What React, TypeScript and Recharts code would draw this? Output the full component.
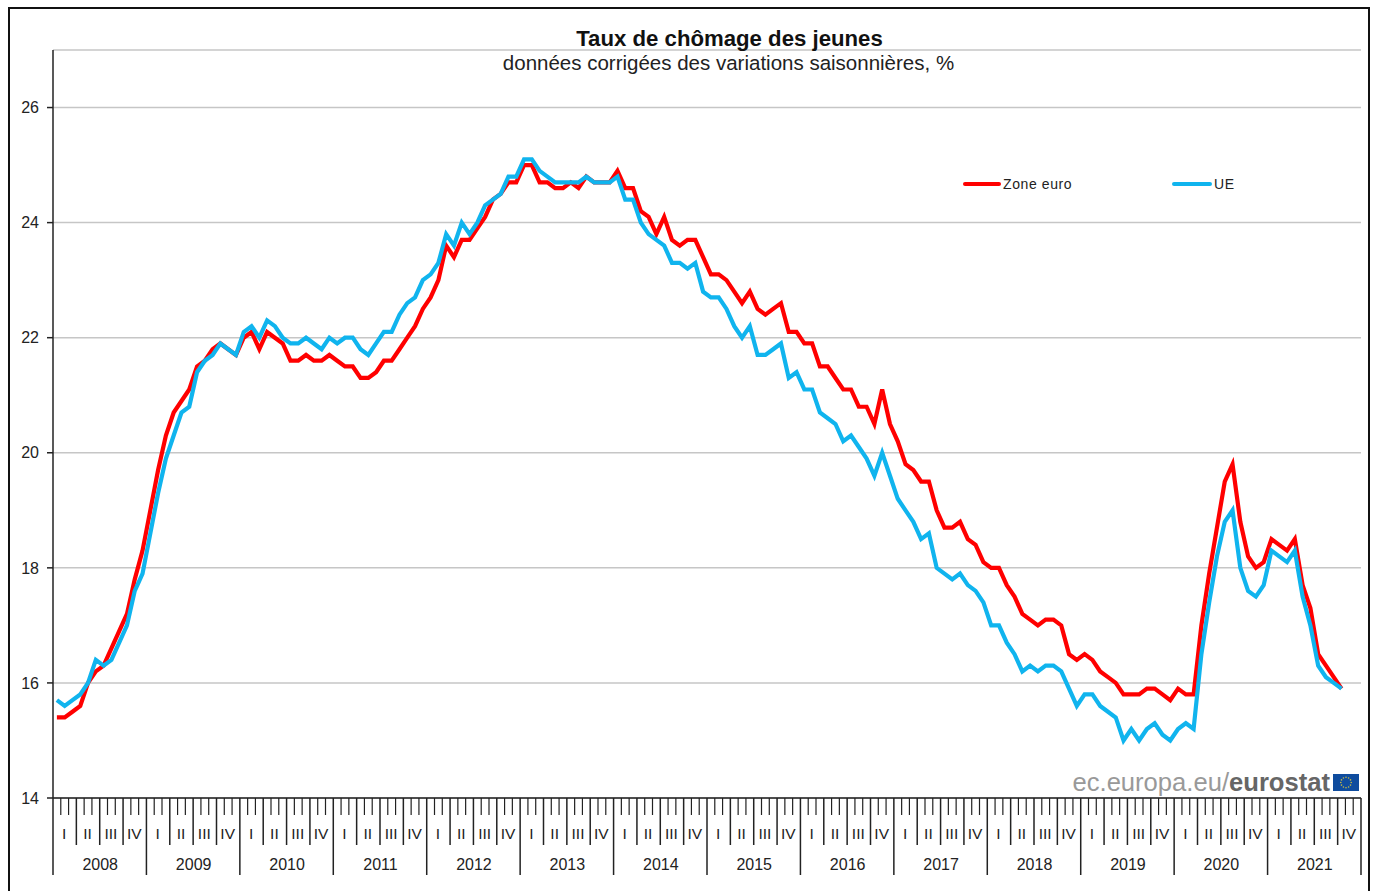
import { CartesianGrid, Legend, Line, LineChart, XAxis, YAxis } from 'recharts';

const years = [2008, 2009, 2010, 2011, 2012, 2013, 2014, 2015, 2016, 2017, 2018, 2019, 2020, 2021];
const quarters = ['I', 'II', 'III', 'IV'];
const yTicks = [14, 16, 18, 20, 22, 24, 26];

// monthly values, one row per year; 2021 stops in October
const zoneEuro = [
    15.4, 15.4, 15.5, 15.6, 16.0, 16.2, 16.3, 16.6, 16.9, 17.2, 17.8, 18.3,
    19.0, 19.7, 20.3, 20.7, 20.9, 21.1, 21.5, 21.6, 21.8, 21.9, 21.8, 21.7,
    22.0, 22.1, 21.8, 22.1, 22.0, 21.9, 21.6, 21.6, 21.7, 21.6, 21.6, 21.7,
    21.6, 21.5, 21.5, 21.3, 21.3, 21.4, 21.6, 21.6, 21.8, 22.0, 22.2, 22.5,
    22.7, 23.0, 23.6, 23.4, 23.7, 23.7, 23.9, 24.1, 24.4, 24.5, 24.7, 24.7,
    25.0, 25.0, 24.7, 24.7, 24.6, 24.6, 24.7, 24.6, 24.8, 24.7, 24.7, 24.7,
    24.9, 24.6, 24.6, 24.2, 24.1, 23.8, 24.1, 23.7, 23.6, 23.7, 23.7, 23.4,
    23.1, 23.1, 23.0, 22.8, 22.6, 22.8, 22.5, 22.4, 22.5, 22.6, 22.1, 22.1,
    21.9, 21.9, 21.5, 21.5, 21.3, 21.1, 21.1, 20.8, 20.8, 20.5, 21.1, 20.5,
    20.2, 19.8, 19.7, 19.5, 19.5, 19.0, 18.7, 18.7, 18.8, 18.5, 18.4, 18.1,
    18.0, 18.0, 17.7, 17.5, 17.2, 17.1, 17.0, 17.1, 17.1, 17.0, 16.5, 16.4,
    16.5, 16.4, 16.2, 16.1, 16.0, 15.8, 15.8, 15.8, 15.9, 15.9, 15.8, 15.7,
    15.9, 15.8, 15.8, 17.0, 17.9, 18.7, 19.5, 19.8, 18.8, 18.2, 18.0, 18.1,
    18.5, 18.4, 18.3, 18.5, 17.7, 17.3, 16.5, 16.3, 16.1, 15.9,
];

const ue = [
    15.7, 15.6, 15.7, 15.8, 16.0, 16.4, 16.3, 16.4, 16.7, 17.0, 17.6, 17.9,
    18.6, 19.3, 19.9, 20.3, 20.7, 20.8, 21.4, 21.6, 21.7, 21.9, 21.8, 21.7,
    22.1, 22.2, 22.0, 22.3, 22.2, 22.0, 21.9, 21.9, 22.0, 21.9, 21.8, 22.0,
    21.9, 22.0, 22.0, 21.8, 21.7, 21.9, 22.1, 22.1, 22.4, 22.6, 22.7, 23.0,
    23.1, 23.3, 23.8, 23.6, 24.0, 23.8, 24.0, 24.3, 24.4, 24.5, 24.8, 24.8,
    25.1, 25.1, 24.9, 24.8, 24.7, 24.7, 24.7, 24.7, 24.8, 24.7, 24.7, 24.7,
    24.8, 24.4, 24.4, 24.0, 23.8, 23.7, 23.6, 23.3, 23.3, 23.2, 23.3, 22.8,
    22.7, 22.7, 22.5, 22.2, 22.0, 22.2, 21.7, 21.7, 21.8, 21.9, 21.3, 21.4,
    21.1, 21.1, 20.7, 20.6, 20.5, 20.2, 20.3, 20.1, 19.9, 19.6, 20.0, 19.6,
    19.2, 19.0, 18.8, 18.5, 18.6, 18.0, 17.9, 17.8, 17.9, 17.7, 17.6, 17.4,
    17.0, 17.0, 16.7, 16.5, 16.2, 16.3, 16.2, 16.3, 16.3, 16.2, 15.9, 15.6,
    15.8, 15.8, 15.6, 15.5, 15.4, 15.0, 15.2, 15.0, 15.2, 15.3, 15.1, 15.0,
    15.2, 15.3, 15.2, 16.5, 17.4, 18.2, 18.8, 19.0, 18.0, 17.6, 17.5, 17.7,
    18.3, 18.2, 18.1, 18.3, 17.5, 17.0, 16.3, 16.1, 16.0, 15.9,
];

const months = years.flatMap(y => Array.from({ length: 12 }, (_, m) => `${y}-${m + 1}`));
const chartData = months.map((month, i) => ({ month, zoneEuro: zoneEuro[i], ue: ue[i] }));

const WIDTH = 1375;
const HEIGHT = 891;
const RIGHT = 14;
const LEFT = 53;
const AXIS_H = 93;
const FONT = '"Liberation Sans", Arial, sans-serif';
const slot = (WIDTH - LEFT - RIGHT) / months.length;

// ruler under the chart: month, quarter and year separators sit between the slots
function TimeTick({ x, y, index }: any) {
    const m = index % 12;
    const edge = x - slot / 2;
    const len = m === 0 ? 77 : m % 3 === 0 ? 47 : 17;
    const isLast = index === months.length - 1;
    return (
        <g>
            <line x1={edge} x2={edge} y1={y} y2={y + len} stroke="#222" strokeWidth={m % 3 === 0 ? 1.5 : 1.2} />
            {isLast && <line x1={edge + slot} x2={edge + slot} y1={y} y2={y + 77} stroke="#222" strokeWidth={1.5} />}
            {m % 3 === 1 && (
                <text x={x - 0.5} y={y + 41} textAnchor="middle" fontSize={15.5} fontFamily={FONT} fill="#222">
                    {quarters[(m - 1) / 3]}
                </text>
            )}
            {m === 6 && (
                <text x={edge + 0.5} y={y + 72} textAnchor="middle" fontSize={16} fontFamily={FONT} fill="#222">
                    {years[Math.floor(index / 12)]}
                </text>
            )}
        </g>
    );
}

function ChartLegend({ payload }: any) {
    return (
        <div style={{ position: 'relative', width: 300, height: 20 }}>
            {(payload ?? []).map((p: any, i: number) => (
                <div
                    key={p.value}
                    style={{ position: 'absolute', left: i * 209, top: 0, display: 'flex', alignItems: 'center', height: 20, whiteSpace: 'nowrap' }}
                >
                    <span style={{ width: 38 + i * 2, height: 4, borderRadius: 2, background: p.color, display: 'inline-block', marginRight: 2 }} />
                    <span style={{ fontFamily: FONT, fontSize: 14, color: '#222', letterSpacing: 0.6 }}>{p.value}</span>
                </div>
            ))}
        </div>
    );
}

function EuFlag() {
    const stars = Array.from({ length: 12 }, (_, i) => (i * Math.PI) / 6);
    return (
        <svg width={26} height={17} style={{ position: 'absolute', left: 1333, top: 774 }}>
            <rect width={26} height={17} fill="#0f4c9e" />
            {stars.map(a => (
                <circle key={a} cx={13 + 5.2 * Math.cos(a)} cy={8.5 + 5.2 * Math.sin(a)} r={0.8} fill="#c8bc45" />
            ))}
        </svg>
    );
}

export default function App() {
    return (
        <div style={{ position: 'absolute', left: 0, top: 0, width: WIDTH, height: HEIGHT, background: '#fff', overflow: 'hidden' }}>
            <LineChart
                width={WIDTH}
                height={HEIGHT}
                data={chartData}
                margin={{ top: 50, right: RIGHT, bottom: 0, left: 0 }}
            >
                <CartesianGrid vertical={false} stroke="#c6c6c6" strokeWidth={1.5} />
                <XAxis
                    dataKey="month"
                    scale="band"
                    interval={0}
                    height={AXIS_H}
                    tickSize={0}
                    tickMargin={0}
                    tick={<TimeTick />}
                    stroke="#222"
                    strokeWidth={1.5}
                />
                <YAxis
                    width={LEFT}
                    domain={[14, 27]}
                    ticks={yTicks}
                    tickSize={6}
                    tickMargin={8}
                    stroke="#222"
                    strokeWidth={1.5}
                    tick={{ fill: '#222', fontSize: 16, fontFamily: FONT }}
                />
                <Legend
                    layout="horizontal"
                    align="center"
                    verticalAlign="middle"
                    itemSorter={null}
                    content={<ChartLegend />}
                    wrapperStyle={{ position: 'absolute', left: 963, top: 174, width: 300, height: 20 }}
                />
                <Line dataKey="zoneEuro" name="Zone euro" stroke="#ff0000" strokeWidth={4.2} dot={false} isAnimationActive={false} />
                <Line dataKey="ue" name="UE" stroke="#10b4ee" strokeWidth={4.2} dot={false} isAnimationActive={false} />
            </LineChart>

            {/* frame has no bottom edge in the picture */}
            <div style={{ position: 'absolute', left: 8, top: 7, width: 1358, height: 900, border: '2px solid #111' }} />

            <div style={{ position: 'absolute', left: 0, width: 1459, top: 26, textAlign: 'center', fontFamily: FONT, fontWeight: 700, fontSize: 22.2, color: '#111' }}>
                Taux de chômage des jeunes
            </div>
            <div style={{ position: 'absolute', left: 0, width: 1457, top: 51, textAlign: 'center', fontFamily: FONT, fontSize: 20.5, color: '#222' }}>
                données corrigées des variations saisonnières, %
            </div>

            <div style={{ position: 'absolute', right: 45, top: 768, fontFamily: FONT, fontSize: 25.6, color: '#999', whiteSpace: 'nowrap' }}>
                ec.europa.eu/<span style={{ fontWeight: 700, color: '#666' }}>eurostat</span>
            </div>
            <EuFlag />
        </div>
    );
}
